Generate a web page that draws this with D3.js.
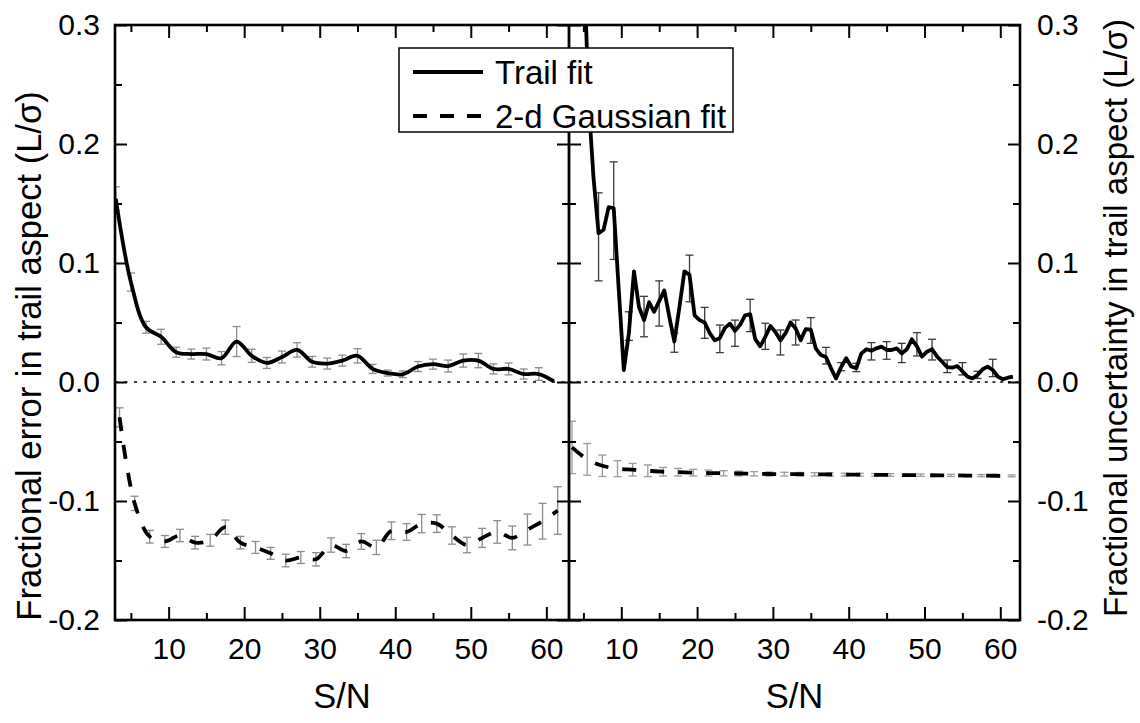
<!DOCTYPE html>
<html>
<head>
<meta charset="utf-8">
<script src="https://cdn.jsdelivr.net/npm/d3@7"></script>
<style>
  body { margin: 0; background: #fff; }
  svg { display: block; }
  text { font-family: "Liberation Sans", Arial, Helvetica, sans-serif; fill: #000; }
</style>
</head>
<body>
<svg id="chart" width="1140" height="723"></svg>
<script>
// ---------- data ----------
// Left panel: fractional error of the fitted aspect L/sigma
const trailSN = [3, 5, 7, 9, 11, 13, 15, 17, 19, 21, 23, 25, 27, 29, 31,
                 33, 35, 37, 39, 41, 43, 45, 47, 49, 51, 53, 55, 57, 59, 61];
const leftTrail = [0.154, 0.084, 0.046, 0.038, 0.025, 0.0235, 0.0235, 0.020, 0.034, 0.022,
                   0.016, 0.021, 0.027, 0.017, 0.0155, 0.018, 0.022, 0.011, 0.0075, 0.0065,
                   0.013, 0.015, 0.0134, 0.018, 0.018, 0.011, 0.011, 0.0067, 0.0067, 0.0005];
const leftTrailErr = [0.010, 0.0076, 0.005, 0.0063, 0.0042, 0.0042, 0.005, 0.0056, 0.0126, 0.0055,
                      0.0046, 0.005, 0.006, 0.0045, 0.0046, 0.0046, 0.006, 0.0038, 0.0025, 0.0028,
                      0.0042, 0.0042, 0.005, 0.0055, 0.006, 0.0042, 0.005, 0.0042, 0.0053, 0];

const gaussSN = [3.5, 5.5, 7.5, 9.5, 11.5, 13.5, 15.5, 17.5, 19.5, 21.5, 23.5, 25.5, 27.5, 29.5, 31.5,
                 33.5, 35.5, 37.5, 39.5, 41.5, 43.5, 45.5, 47.5, 49.5, 51.5, 53.5, 55.5, 57.5, 59.5, 61.5];
const leftGauss = [-0.0297, -0.102, -0.130, -0.134, -0.129, -0.135, -0.133, -0.122, -0.135, -0.139,
                   -0.144, -0.150, -0.1475, -0.149, -0.137, -0.142, -0.134, -0.139, -0.125, -0.126,
                   -0.119, -0.119, -0.129, -0.137, -0.131, -0.126, -0.131, -0.124, -0.117, -0.108];
const leftGaussErr = [0.008, 0.006, 0.0053, 0.005, 0.0052, 0.0053, 0.005, 0.006, 0.0053, 0.005,
                      0.005, 0.0053, 0.005, 0.0056, 0.006, 0.0056, 0.0066, 0.006, 0.0074, 0.007,
                      0.0077, 0.0074, 0.0073, 0.0065, 0.008, 0.0095, 0.010, 0.013, 0.015, 0.020];

// Right panel: fractional uncertainty of the fitted aspect
const rightLineSN = [5, 5.67, 6.33, 7, 7.67, 8.33, 9, 9.67, 10.33, 11, 11.67, 12.33, 13, 13.67, 14.33,
                     15, 15.67, 16.33, 17, 17.67, 18.33, 19, 19.67, 20.33, 21, 21.67, 22.33, 23, 23.67,
                     24.33, 25, 25.67, 26.33, 27, 27.67, 28.33, 29, 29.67, 30.33, 31, 31.67, 32.33, 33,
                     33.67, 34.33, 35, 35.67, 36.33, 37, 37.67, 38.33, 39, 39.67, 40.33, 41, 41.67,
                     42.33, 43, 43.67, 44.33, 45, 45.67, 46.33, 47, 47.67, 48.33, 49, 49.67, 50.33, 51,
                     51.67, 52.33, 53, 53.67, 54.33, 55, 55.67, 56.33, 57, 57.67, 58.33, 59, 59.67,
                     60.33, 61, 61.67];
const rightLine = [0.37, 0.237, 0.172, 0.125, 0.128, 0.147, 0.146, 0.077, 0.010, 0.041, 0.093, 0.063,
                   0.052, 0.067, 0.059, 0.068, 0.077, 0.055, 0.034, 0.063, 0.093, 0.090, 0.056, 0.052,
                   0.050, 0.041, 0.035, 0.037, 0.0455, 0.049, 0.043, 0.048, 0.056, 0.057, 0.036, 0.030,
                   0.038, 0.047, 0.042, 0.035, 0.041, 0.050, 0.045, 0.035, 0.0445, 0.044, 0.028, 0.0227,
                   0.021, 0.0115, 0.003, 0.0125, 0.020, 0.013, 0.0115, 0.024, 0.0275, 0.0263, 0.0283,
                   0.0297, 0.0269, 0.0269, 0.0283, 0.024, 0.0275, 0.0359, 0.030, 0.0213, 0.0255, 0.0275,
                   0.0213, 0.017, 0.0125, 0.012, 0.0134, 0.009, 0.0045, 0.003, 0.0059, 0.0107, 0.0129,
                   0.0101, 0.0045, 0.0023, 0.0036, 0.0045];
const rightBarSN = [7, 9, 11, 13, 15, 17, 19, 21, 23, 25, 27, 29, 31, 33, 35, 37, 39, 41, 43, 45,
                    47, 49, 51, 53, 55, 57, 59];
const rightBar = [0.122, 0.144, 0.047, 0.055, 0.066, 0.033, 0.087, 0.0497, 0.0363, 0.041, 0.0559,
                  0.0384, 0.0332, 0.0416, 0.0433, 0.0221, 0.0129, 0.0122, 0.0258, 0.0265, 0.0244,
                  0.0317, 0.0272, 0.0132, 0.0111, 0.006, 0.0118];
const rightBarErr = [0.037, 0.041, 0.012, 0.017, 0.019, 0.008, 0.0196, 0.013, 0.0116, 0.011, 0.0136,
                     0.011, 0.0105, 0.0105, 0.0108, 0.007, 0.0034, 0.0035, 0.0073, 0.0074, 0.0081,
                     0.0098, 0.0087, 0.0053, 0.0052, 0.003, 0.0073];

const rightGauss = [-0.055, -0.065, -0.0704, -0.0728, -0.0737, -0.0746, -0.0754, -0.0758, -0.0762,
                    -0.0765, -0.0767, -0.0769, -0.0771, -0.0773, -0.0774, -0.0775, -0.0776, -0.0777,
                    -0.0778, -0.0779, -0.078, -0.0781, -0.0782, -0.0783, -0.0784, -0.0785, -0.0786,
                    -0.0787, -0.0788, -0.0789];
const rightGaussErr = [0.022, 0.0133, 0.009, 0.0067, 0.0053, 0.0049, 0.0036, 0.0032, 0.0028, 0.0025,
                       0.0022, 0.002, 0.0018, 0.0017, 0.0016, 0.0015, 0.0014, 0.0013, 0.0012, 0.0012,
                       0.0011, 0.0011, 0.001, 0.001, 0.001, 0.0009, 0.0009, 0.0009, 0.0008, 0.0008];

// ticks and labels
const xMajorTicks = [10, 20, 30, 40, 50, 60];
const xMinorTicks = [5, 15, 25, 35, 45, 55];
const yMajorTicks = [-0.2, -0.1, 0.0, 0.1, 0.2, 0.3];
const yMinorTicks = [-0.15, -0.05, 0.05, 0.15, 0.25];
const xTitle = "S/N";
const leftTitle = "Fractional error in trail aspect (L/\u03c3)";
const rightTitle = "Fractional uncertainty in trail aspect (L/\u03c3)";
const legendLabels = ["Trail fit", "2-d Gaussian fit"];

// ---------- layout ----------
const svg = d3.select("#chart");
const plotTop = 25, plotBottom = 620;
const leftX0 = 115, midX = 569, rightX1 = 1020;

const y = d3.scaleLinear().domain([-0.2, 0.3]).range([plotBottom, plotTop]);
const xL = d3.scaleLinear().domain([2.9, 63]).range([leftX0, midX]);
const xR = d3.scaleLinear().domain([3.1, 62.6]).range([midX, rightX1]);

const defs = svg.append("defs");
defs.append("clipPath").attr("id", "clipL").append("rect")
  .attr("x", leftX0).attr("y", plotTop).attr("width", midX - leftX0).attr("height", plotBottom - plotTop);
defs.append("clipPath").attr("id", "clipR").append("rect")
  .attr("x", midX).attr("y", plotTop).attr("width", rightX1 - midX).attr("height", plotBottom - plotTop);

const fmtY = d => d.toFixed(1);
const tickFont = 30;

function styleAxis(g, width) {
  g.select(".domain").remove();
  g.selectAll(".tick line").attr("stroke", "#000").attr("stroke-width", width);
  g.attr("font-size", tickFont).attr("font-family", null);
}

function drawAxes(x, x0, x1, showLeftLabels, showRightLabels) {
  // bottom
  svg.append("g").attr("transform", `translate(0,${plotBottom})`)
    .call(d3.axisBottom(x).tickValues(xMajorTicks).tickSize(-13).tickPadding(18).tickFormat(d => d))
    .call(g => styleAxis(g, 2));
  svg.append("g").attr("transform", `translate(0,${plotBottom})`)
    .call(d3.axisBottom(x).tickValues(xMinorTicks).tickSize(-7).tickFormat(""))
    .call(g => styleAxis(g, 2));
  // top
  svg.append("g").attr("transform", `translate(0,${plotTop})`)
    .call(d3.axisTop(x).tickValues(xMajorTicks).tickSize(-13).tickFormat(""))
    .call(g => styleAxis(g, 2));
  svg.append("g").attr("transform", `translate(0,${plotTop})`)
    .call(d3.axisTop(x).tickValues(xMinorTicks).tickSize(-7).tickFormat(""))
    .call(g => styleAxis(g, 2));
  // left side
  svg.append("g").attr("transform", `translate(${x0},0)`)
    .call(d3.axisLeft(y).tickValues(yMajorTicks).tickSize(-12).tickPadding(15)
      .tickFormat(showLeftLabels ? fmtY : ""))
    .call(g => styleAxis(g, 2));
  svg.append("g").attr("transform", `translate(${x0},0)`)
    .call(d3.axisLeft(y).tickValues(yMinorTicks).tickSize(-7).tickFormat(""))
    .call(g => styleAxis(g, 2));
  // right side
  svg.append("g").attr("transform", `translate(${x1},0)`)
    .call(d3.axisRight(y).tickValues(yMajorTicks).tickSize(-12).tickPadding(17)
      .tickFormat(showRightLabels ? fmtY : ""))
    .call(g => styleAxis(g, 2));
  svg.append("g").attr("transform", `translate(${x1},0)`)
    .call(d3.axisRight(y).tickValues(yMinorTicks).tickSize(-7).tickFormat(""))
    .call(g => styleAxis(g, 2));
}

function zeroLine(x0, x1, dash) {
  svg.append("line")
    .attr("x1", x0).attr("x2", x1).attr("y1", y(0)).attr("y2", y(0))
    .attr("stroke", "#000").attr("stroke-width", 1.6).attr("stroke-dasharray", dash);
}

function errorBars(clip, x, sn, vals, errs, color) {
  const g = svg.append("g").attr("clip-path", `url(#${clip})`)
    .attr("stroke", color).attr("stroke-width", 1.3).attr("fill", "none");
  const cap = 4;
  sn.forEach((s, i) => {
    if (!errs[i]) return;
    const cx = x(s), yt = y(vals[i] + errs[i]), yb = y(vals[i] - errs[i]);
    g.append("line").attr("x1", cx).attr("x2", cx).attr("y1", yt).attr("y2", yb);
    g.append("line").attr("x1", cx - cap).attr("x2", cx + cap).attr("y1", yt).attr("y2", yt);
    g.append("line").attr("x1", cx - cap).attr("x2", cx + cap).attr("y1", yb).attr("y2", yb);
  });
}

function series(clip, x, sn, vals, curve, dash) {
  const line = d3.line().x((d, i) => x(sn[i])).y(d => y(d)).curve(curve);
  svg.append("path").attr("clip-path", `url(#${clip})`)
    .attr("d", line(vals))
    .attr("fill", "none").attr("stroke", "#000").attr("stroke-width", 3.8)
    .attr("stroke-linejoin", "round")
    .attr("stroke-dasharray", dash || null);
}

// ---------- left panel ----------
zeroLine(leftX0, midX, "3,6.5");
errorBars("clipL", xL, trailSN, leftTrail, leftTrailErr, "#8c8c8c");
errorBars("clipL", xL, gaussSN, leftGauss, leftGaussErr, "#8c8c8c");
series("clipL", xL, trailSN, leftTrail, d3.curveCatmullRom.alpha(0.5));
series("clipL", xL, gaussSN, leftGauss, d3.curveCatmullRom.alpha(0.5), "14,14");

// ---------- right panel ----------
zeroLine(midX, rightX1, "3,4.7");
errorBars("clipR", xR, gaussSN, rightGauss, rightGaussErr, "#9a9a9a");
errorBars("clipR", xR, rightBarSN, rightBar, rightBarErr, "#3a3a3a");
series("clipR", xR, rightLineSN, rightLine, d3.curveLinear);
series("clipR", xR, gaussSN, rightGauss, d3.curveCatmullRom.alpha(0.5), "14,14");

// ---------- axes and frames ----------
drawAxes(xL, leftX0, midX, true, false);
drawAxes(xR, midX, rightX1, false, true);

svg.append("rect").attr("x", leftX0).attr("y", plotTop)
  .attr("width", rightX1 - leftX0).attr("height", plotBottom - plotTop)
  .attr("fill", "none").attr("stroke", "#000").attr("stroke-width", 2.6);
svg.append("line").attr("x1", midX).attr("x2", midX).attr("y1", plotTop).attr("y2", plotBottom)
  .attr("stroke", "#000").attr("stroke-width", 2.8);

// ---------- titles ----------
const titleFont = 34.5;
svg.append("text").attr("x", (leftX0 + midX) / 2).attr("y", 708)
  .attr("text-anchor", "middle").attr("font-size", titleFont).text(xTitle);
svg.append("text").attr("x", (midX + rightX1) / 2).attr("y", 708)
  .attr("text-anchor", "middle").attr("font-size", titleFont).text(xTitle);
svg.append("text").attr("transform", "translate(41,356) rotate(-90)")
  .attr("text-anchor", "middle").attr("font-size", titleFont).text(leftTitle);
svg.append("text").attr("transform", "translate(1127,318) rotate(-90)")
  .attr("text-anchor", "middle").attr("font-size", 33).text(rightTitle);

// ---------- legend ----------
const lg = svg.append("g");
lg.append("rect").attr("x", 399).attr("y", 48).attr("width", 334).attr("height", 84)
  .attr("fill", "#fff").attr("stroke", "#000").attr("stroke-width", 1.5);
const legendRows = [{ y: 72, dash: null }, { y: 116, dash: "14,13" }];
legendRows.forEach((r, i) => {
  lg.append("line").attr("x1", 413).attr("x2", 483).attr("y1", r.y).attr("y2", r.y)
    .attr("stroke", "#000").attr("stroke-width", 3.8).attr("stroke-dasharray", r.dash);
  lg.append("text").attr("x", 495).attr("y", r.y + 12).attr("font-size", 33).text(legendLabels[i]);
});
</script>
</body>
</html>
